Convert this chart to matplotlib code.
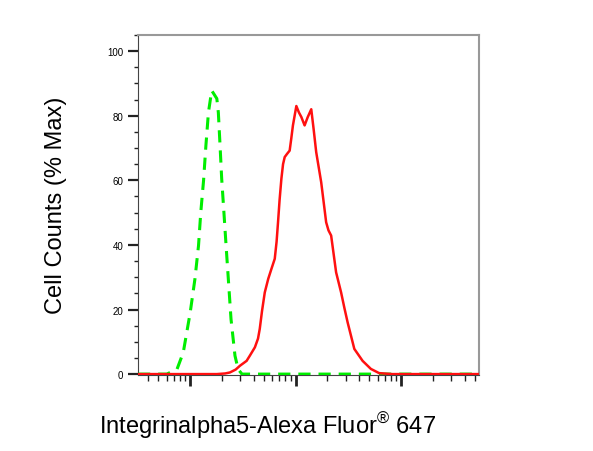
import numpy as np
import matplotlib
matplotlib.use("Agg")
import matplotlib.pyplot as plt
from matplotlib.ticker import LogLocator, MultipleLocator, NullFormatter

plt.rcParams['font.family'] = ['Liberation Sans', 'DejaVu Sans']

# isotype control (green dashed), fluorescence intensity vs % max
ctrl_x = [32, 60, 75, 86, 100, 111, 120, 126, 134, 141, 149, 160,
          179, 185, 192, 199, 209, 219, 230, 244, 266, 285, 310, 54800]
ctrl_y = [0, 0, 1.5, 6.7, 19, 29.5, 39.8, 50, 60, 70.8, 81, 87.8,
          85.3, 81, 70.8, 60.5, 50, 39.8, 29.5, 17, 5.7, 1.5, 0, 0]

# Integrin alpha5 stained sample (red solid)
samp_x = [32, 179, 215, 238, 270, 297, 343, 368, 411, 440, 457, 480, 510, 550,
          590, 634, 660, 681, 705, 733, 760, 788, 830, 878, 910, 943, 1016,
          1075, 1133, 1217, 1300, 1407, 1480, 1568, 1748, 1948, 2050, 2172,
          2421, 2699, 2900, 3114, 3603, 4317, 5174, 6197, 8222, 54800]
samp_y = [0, 0, 0.2, 0.5, 1.4, 2.6, 4.1, 5.7, 8.3, 11, 14, 19.5, 25.3, 29.5,
          32.6, 35.7, 41, 47, 54, 60.5, 65, 67.2, 68.2, 69.2, 73, 77, 83,
          81, 79.6, 77, 79.5, 82, 76, 68.7, 59.4, 47, 44.5, 42.9,
          31.5, 25.3, 20.5, 16, 7.8, 4.1, 1.6, 0.3, 0, 0]

y_ticks = [0, 20, 40, 60, 80, 100]

fig = plt.figure(figsize=(5.93, 4.52), dpi=100)
ax = fig.add_axes([0.2327, 0.168, 0.575, 0.7524])

ax.plot(ctrl_x, ctrl_y, color="#00ee00", linestyle=(0, (4, 2.6)), linewidth=2.2, zorder=3)
ax.plot(samp_x, samp_y, color="#ff1010", linewidth=1.8, zorder=4)

ax.set_xscale("log")
ax.set_xlim(32, 54800)
ax.set_ylim(-0.3, 105)

ax.xaxis.set_major_locator(LogLocator(base=10, numticks=10))
ax.xaxis.set_minor_locator(LogLocator(base=10, subs=np.arange(2, 10), numticks=20))
ax.xaxis.set_major_formatter(NullFormatter())
ax.xaxis.set_minor_formatter(NullFormatter())
ax.tick_params(axis="x", which="major", length=8, width=2, color="#222222")
ax.tick_params(axis="x", which="minor", length=4.5, width=1, color="#222222")

ax.set_yticks(y_ticks)
ax.yaxis.set_minor_locator(MultipleLocator(5))
ax.tick_params(axis="y", which="major", length=7, width=1.6, color="#222222",
               labelsize=7, pad=3.5)
ax.tick_params(axis="y", which="minor", length=3, width=1, color="#222222")

for side in ["top", "right"]:
    ax.spines[side].set_color("#999999")
    ax.spines[side].set_linewidth(1.5)
ax.spines["left"].set_color("#444444")
ax.spines["bottom"].set_color("#444444")

ax.set_ylabel("Cell Counts (% Max)", fontsize=17)
ax.yaxis.set_label_coords(-0.208, 0.503)
ax.set_xlabel("Integrinalpha5-Alexa Fluor$^{\\mathregular{®}}$ 647", fontsize=17)
ax.xaxis.set_label_coords(0.381, -0.1)

fig.savefig("out.png", dpi=100)
